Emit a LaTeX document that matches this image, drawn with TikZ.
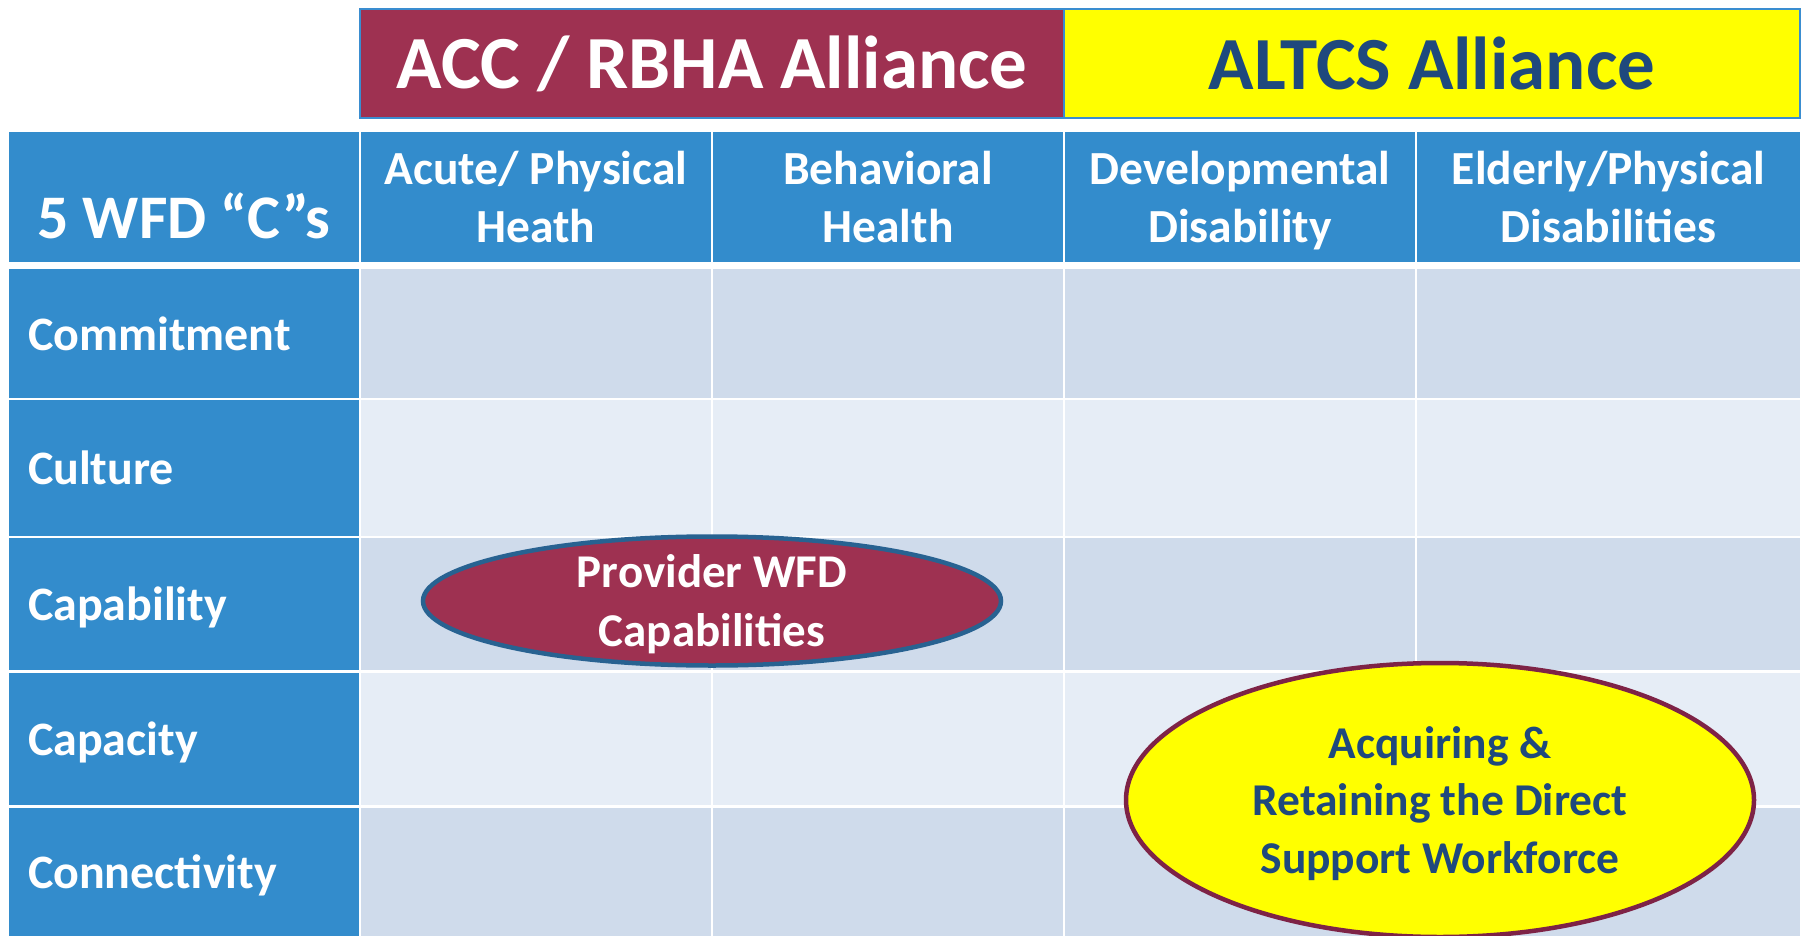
\documentclass[tikz,border=0pt]{standalone}
\usepackage{fontspec}
\setmainfont{Carlito}
\usetikzlibrary{shapes.geometric}

\definecolor{hdrblue}{RGB}{51,140,204}
\definecolor{cellA}{RGB}{207,219,235}
\definecolor{cellB}{RGB}{230,237,246}
\definecolor{wine}{RGB}{158,49,81}
\definecolor{navy}{RGB}{31,73,125}
\definecolor{sun}{RGB}{255,255,0}
\definecolor{rimblue}{RGB}{40,98,145}
\definecolor{rimwine}{RGB}{126,35,70}
\definecolor{edgeblue}{RGB}{58,141,208}

% drop the descender so lines sit on the same baseline
\newcommand{\nodep}[1]{\raisebox{0pt}[\height][0pt]{#1}}

\begin{document}
\begin{tikzpicture}[x=1pt,y=-1pt,
    cell/.style={rectangle,inner sep=0,minimum width=350},
    hdr/.style={cell,fill=hdrblue,text=white,align=center,font=\fontsize{47.5}{58}\selectfont\bfseries},
    rowlab/.style={cell,fill=hdrblue,text=white,text width=312,align=left,font=\fontsize{48}{58}\selectfont\bfseries},
    banner/.style={rectangle,inner sep=0,draw=edgeblue,line width=2,minimum height=109,font=\fontsize{75}{80}\selectfont\bfseries},
    oval/.style={ellipse,line width=4.5,align=center,inner xsep=0,inner ysep=-20}]

    \useasboundingbox[fill=white] (0,0) rectangle (1804,936);

    % alliance banner
    \node[banner,fill=wine,text=white,minimum width=704] (acc) at (712,63.5) {ACC / RBHA Alliance};
    \node[banner,fill=sun,text=navy,minimum width=736] (altcs) at (1432,63.5) {ALTCS Alliance};

    % header row
    \node[cell,fill=hdrblue,minimum height=130] (h0) at (184,197) {};
    \node[text=white,font=\fontsize{62}{70}\selectfont\bfseries,anchor=base] (wfd) at (184,238) {5 WFD “C”s};
    \node[hdr,minimum height=130] (h1) at (536,197) {Acute/ Physical\\Heath};
    \node[hdr,minimum height=130] (h2) at (888,197) {Behavioral\\Health};
    \node[hdr,minimum height=130] (h3) at (1240,197) {Developmental\\\nodep{Disability}};
    \node[hdr,minimum height=130,minimum width=383] (h4) at (1608.5,197) {Elderly/Physical\\Disabilities};

    % row labels
    \node[rowlab,minimum height=129] (commit) at (184,333.5) {\nodep{Commitment}};
    \node[rowlab,minimum height=136] (cult) at (184,468) {\nodep{Culture}};
    \node[rowlab,minimum height=132] (capab) at (184,604) {\nodep{Capability}};
    \node[rowlab,minimum height=132] (capac) at (184,739) {\nodep{Capacity}};
    \node[rowlab,minimum height=128] (conn) at (184,872) {\nodep{Connectivity}};

    % body cells
    \node[cell,fill=cellA,minimum height=129] (c11) at (536,333.5) {};
    \node[cell,fill=cellA,minimum height=129] (c12) at (888,333.5) {};
    \node[cell,fill=cellA,minimum height=129] (c13) at (1240,333.5) {};
    \node[cell,fill=cellA,minimum height=129,minimum width=383] (c14) at (1608.5,333.5) {};

    \node[cell,fill=cellB,minimum height=136] (c21) at (536,468) {};
    \node[cell,fill=cellB,minimum height=136] (c22) at (888,468) {};
    \node[cell,fill=cellB,minimum height=136] (c23) at (1240,468) {};
    \node[cell,fill=cellB,minimum height=136,minimum width=383] (c24) at (1608.5,468) {};

    \node[cell,fill=cellA,minimum height=132] (c31) at (536,604) {};
    \node[cell,fill=cellA,minimum height=132] (c32) at (888,604) {};
    \node[cell,fill=cellA,minimum height=132] (c33) at (1240,604) {};
    \node[cell,fill=cellA,minimum height=132,minimum width=383] (c34) at (1608.5,604) {};

    \node[cell,fill=cellB,minimum height=132] (c41) at (536,739) {};
    \node[cell,fill=cellB,minimum height=132] (c42) at (888,739) {};
    \node[cell,fill=cellB,minimum height=132] (c43) at (1240,739) {};
    \node[cell,fill=cellB,minimum height=132,minimum width=383] (c44) at (1608.5,739) {};

    \node[cell,fill=cellA,minimum height=128] (c51) at (536,872) {};
    \node[cell,fill=cellA,minimum height=128] (c52) at (888,872) {};
    \node[cell,fill=cellA,minimum height=128] (c53) at (1240,872) {};
    \node[cell,fill=cellA,minimum height=128,minimum width=383] (c54) at (1608.5,872) {};

    % ovals
    \node[oval,fill=wine,draw=rimblue,text=white,minimum width=578,minimum height=129,
          font=\fontsize{47}{59}\selectfont\bfseries] (provider) at (712,601) {Provider WFD\\\nodep{Capabilities}};
    \node[oval,fill=sun,draw=rimwine,text=navy,minimum width=628,minimum height=274,
          font=\fontsize{45.5}{57.5}\selectfont\bfseries] (dsw) at (1440,800) {Acquiring \&\\Retaining the Direct\\\nodep{Support Workforce}};
  \end{tikzpicture}
\end{document}
